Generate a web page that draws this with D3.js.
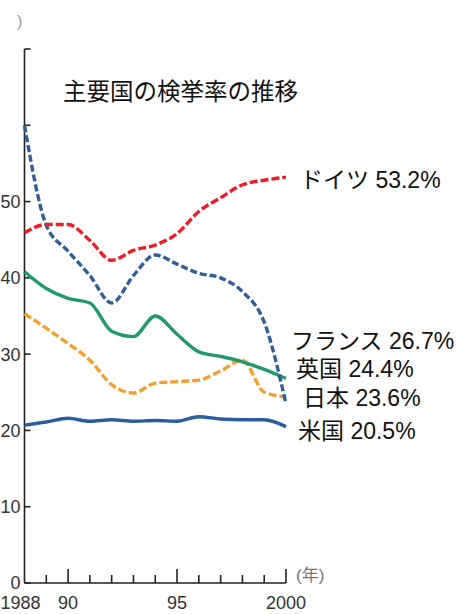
<!DOCTYPE html>
<html><head><meta charset="utf-8">
<script src="https://cdn.jsdelivr.net/npm/d3@7"></script>
<style>html,body{margin:0;padding:0;background:#fff}</style>
</head><body>
<script>
const years = [1988,1989,1990,1991,1992,1993,1994,1995,1996,1997,1998,1999,2000];
const germany = [45.9,47.0,47.0,44.9,42.3,43.6,44.3,45.8,48.7,50.5,52.2,52.8,53.2];
const france  = [60.0,46.9,43.5,40.3,36.7,40.3,43.0,41.8,40.6,40.0,38.2,34.2,23.5];
const britain = [40.8,38.6,37.3,36.7,33.0,32.3,35.0,32.6,30.3,29.7,29.0,28.0,26.8];
const japan   = [35.3,33.4,31.4,29.2,26.0,24.9,26.2,26.4,26.6,27.8,29.2,25.0,24.4];
const usa     = [20.7,21.1,21.6,21.2,21.4,21.2,21.3,21.2,21.8,21.5,21.4,21.4,20.5];
const yTicks = [0,10,20,30,40,50,60,70];
const yTickLabels = ["0","10","20","30","40","50","",""];
const xTickLabels = {1988:"1988",1990:"90",1995:"95",2000:"2000"};
const seriesLabels = ["ドイツ 53.2%","フランス 26.7%","英国 24.4%","日本 23.6%","米国 20.5%"];
const title = "主要国の検挙率の推移";

const W=458,H=614;
const svg=d3.select("body").append("svg").attr("width",W).attr("height",H).style("background","#fff");
const x=d3.scaleLinear().domain([1988,2000]).range([24.5,286]);
const y=d3.scaleLinear().domain([0,70]).range([583,49]);
const numFont='"Liberation Sans", Arial, sans-serif';
const jpFont='"Liberation Sans", "Noto Sans CJK JP", sans-serif';

// unit fragment
svg.append("text").attr("x",17).attr("y",27).attr("font-family",numFont).attr("font-size",16).attr("fill","#999").text(")");

// y axis
const g=svg.append("g");
g.append("line").attr("x1",x(1988)).attr("x2",x(1988)).attr("y1",y(70)).attr("y2",y(0)).attr("stroke","#222").attr("stroke-width",1.6);
yTicks.forEach((t,i)=>{
  g.append("line").attr("x1",x(1988)).attr("x2",x(1988)+6).attr("y1",y(t)).attr("y2",y(t)).attr("stroke","#222").attr("stroke-width",1.6);
  if(yTickLabels[i]) g.append("text").attr("x",x(1988)-4).attr("y",y(t)).attr("dy","0.36em").attr("text-anchor","end")
    .attr("font-family",numFont).attr("font-size",18).attr("fill","#333").text(yTickLabels[i]);
});
// x axis
g.append("line").attr("x1",x(1988)).attr("x2",x(2000)).attr("y1",y(0)).attr("y2",y(0)).attr("stroke","#222").attr("stroke-width",1.6);
years.slice(1).forEach(yr=>{
  const major = xTickLabels[yr]!==undefined;
  g.append("line").attr("x1",x(yr)).attr("x2",x(yr)).attr("y1",y(0)).attr("y2",y(0)-(major?14:8)).attr("stroke","#222").attr("stroke-width",1.6);
});
Object.keys(xTickLabels).forEach(k=>{
  const yr=+k;
  g.append("text").attr("x",x(yr)+(yr===1988?-4:0)).attr("y",y(0)+20).attr("dy","0.36em").attr("text-anchor","middle")
   .attr("font-family",numFont).attr("font-size",18).attr("fill","#333").text(xTickLabels[k]);
});
svg.append("text").attr("x",x(2000)+10).attr("y",y(0)-8).attr("dy","0.36em").attr("font-family",jpFont).attr("font-size",17).attr("fill","#777").text("(年)");

// title
svg.append("text").attr("x",63).attr("y",92).attr("dy","0.36em").attr("font-family",'"Noto Sans CJK JP", sans-serif').attr("font-size",23.5).attr("fill","#111").text(title);

// lines
const line=d3.line().x((d,i)=>x(years[i])).y(d=>y(d)).curve(d3.curveMonotoneX);
const series=[
  {v:usa, c:"#2b5d9c", dash:null},
  {v:japan, c:"#f5a02e", dash:"8,3"},
  {v:britain, c:"#23996b", dash:null},
  {v:france, c:"#2f5f96", dash:"7,3"},
  {v:germany, c:"#ee1c25", dash:"8,3"}
];
series.forEach(s=>{
  svg.append("path").attr("d",line(s.v)).attr("fill","none").attr("stroke",s.c).attr("stroke-width",3.4)
   .attr("stroke-dasharray",s.dash).attr("stroke-linejoin","round");
});

// labels
const labelPos=[[300,180],[291,341],[296,369],[303,398],[298,431]];
seriesLabels.forEach((t,i)=>{
  svg.append("text").attr("x",labelPos[i][0]).attr("y",labelPos[i][1]).attr("dy","0.36em")
   .attr("font-family",jpFont).attr("font-size",23).attr("fill","#111").text(t);
});
</script>
</body></html>
